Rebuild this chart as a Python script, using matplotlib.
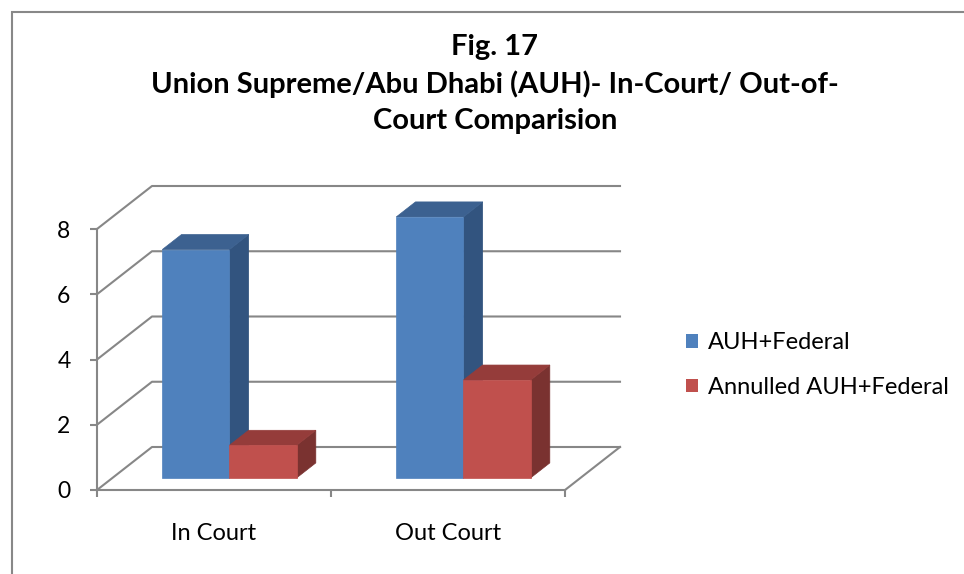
import matplotlib.pyplot as plt
from matplotlib.patches import Polygon, Rectangle, Patch

categories = ['In Court', 'Out Court']
series_names = ['AUH+Federal', 'Annulled AUH+Federal']
auh_federal = [7, 8]
annulled_auh = [1, 3]
y_ticks = [0, 2, 4, 6, 8]
title_lines = ['Fig. 17',
               'Union Supreme/Abu Dhabi (AUH)- In-Court/ Out-of-',
               'Court Comparision']

W, H = 964, 574
plt.rcParams['font.family'] = ['Lato', 'DejaVu Sans']
grid_col = '#878787'

fig = plt.figure(figsize=(W / 100, H / 100), dpi=100)
ax = fig.add_axes([97 / W, (H - 490) / H, 468 / W, 261 / H])
ax.set_xlim(0, len(categories))
ax.set_ylim(0, 8)

# oblique depth offset (data units)
DX = 55 / 234
DY = 43 / (261 / 8)


def proj(x, y, z):
    return (x + z * DX, y + z * DY)


# back wall + left wall gridlines
for v in y_ticks:
    ax.plot([0, DX, len(categories) + DX], [v, v + DY, v + DY],
            color=grid_col, lw=1.5, clip_on=False, zorder=1)
ax.plot([len(categories), len(categories) + DX], [0, DY],
        color=grid_col, lw=1.5, clip_on=False, zorder=1)

# bars
series = [(auh_federal, ('#4F81BD', '#3C6190', '#32547F')),
          (annulled_auh, ('#C0504D', '#953C3A', '#7A3230'))]
w = 0.287
z0, z1 = 0.28, 0.63
zo = 3
for i in range(len(categories)):
    for s, (vals, (c_front, c_top, c_side)) in enumerate(series):
        v = vals[i]
        x0 = i + 0.5 - w + s * w
        x1 = x0 + w
        front = [proj(x0, 0, z0), proj(x1, 0, z0), proj(x1, v, z0), proj(x0, v, z0)]
        top = [proj(x0, v, z0), proj(x1, v, z0), proj(x1, v, z1), proj(x0, v, z1)]
        side = [proj(x1, 0, z0), proj(x1, 0, z1), proj(x1, v, z1), proj(x1, v, z0)]
        for pts, c in [(side, c_side), (top, c_top), (front, c_front)]:
            ax.add_patch(Polygon(pts, closed=True, facecolor=c, edgecolor=c,
                                 lw=0.5, clip_on=False, zorder=zo))
            zo += 1

# axes styling
for sp in ['top', 'right']:
    ax.spines[sp].set_visible(False)
for sp in ['left', 'bottom']:
    ax.spines[sp].set_color(grid_col)
    ax.spines[sp].set_linewidth(1.5)
ax.set_yticks(y_ticks)
ax.set_yticklabels([str(t) for t in y_ticks])
ax.tick_params(axis='y', direction='out', length=5, width=1.5, color=grid_col,
               labelsize=16.5, pad=14)
ax.set_xticks(range(len(categories) + 1))
ax.set_xticklabels([])
ax.tick_params(axis='x', which='major', direction='out', length=5, width=1.5,
               color=grid_col)
ax.set_xticks([i + 0.5 for i in range(len(categories))], minor=True)
ax.set_xticklabels(categories, minor=True)
ax.tick_params(axis='x', which='minor', length=0, labelsize=17, pad=24)
ax.patch.set_visible(False)

# title
for k, line in enumerate(title_lines):
    fig.text(495 / W, 1 - (47 + 37 * k) / H, line, ha='center', va='center',
             fontsize=21, fontweight='bold')

# legend
handles = [Patch(facecolor=series[j][1][0], edgecolor='none') for j in range(2)]
fig.legend(handles, series_names, loc='center left',
           bbox_to_anchor=(686 / W, 1 - 365 / H), frameon=False, fontsize=17,
           handlelength=0.52, handleheight=0.52, handletextpad=0.42,
           labelspacing=1.0, borderpad=0, borderaxespad=0)

# chart border
fig.add_artist(Rectangle((12 / W, -0.1), 2, 1.1 - 12 / H, transform=fig.transFigure,
                         fill=False, edgecolor='#888888', lw=1.5))

fig.savefig('out.png', dpi=100)
